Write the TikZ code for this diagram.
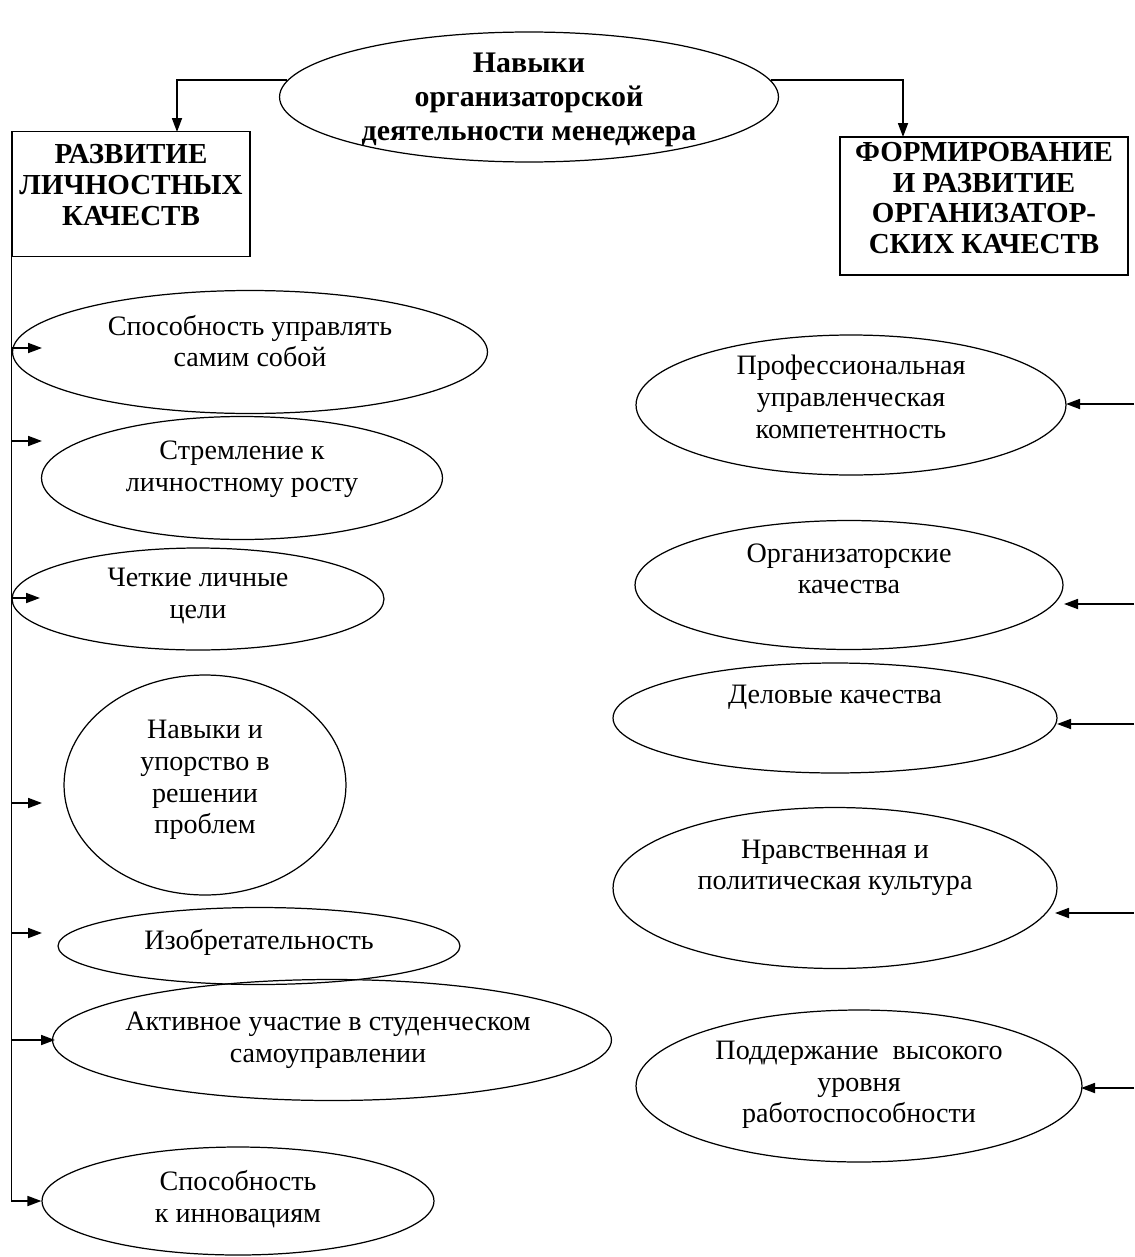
\documentclass[tikz,border=0pt]{standalone}
\usepackage{fontspec}
\setmainfont{Liberation Serif}
\usetikzlibrary{arrows.meta,shapes.geometric}

\tikzset{
  oval/.style={draw, ellipse, line width=0.7pt, inner sep=0pt},
  ovaltext/.style={align=center, font=\fontsize{16}{18}\selectfont, inner sep=0pt},
  headbox/.style={draw, rectangle, line width=0.7pt, inner sep=0pt},
  headtext/.style={align=center, font=\bfseries\fontsize{16.5}{17.5}\selectfont, inner sep=0pt},
  arr/.style={line width=1pt, -{Triangle[length=0.28cm, width=0.2cm]}}
}

\begin{document}
\begin{tikzpicture}[x=0.02cm, y=-0.02cm]
  \useasboundingbox (0,0) rectangle (1134,1257);

  % Top
  \node[oval, minimum width=9.98cm, minimum height=2.6cm] (top) at (529,97) {};
  \node[align=center, inner sep=0pt, font=\bfseries\fontsize{17}{19.5}\selectfont] (toptxt) at (529,100)
    {Навыки\\организаторской\\деятельности менеджера};

  % Headings
  \node[headbox, minimum width=4.76cm, minimum height=2.5cm] (lbox) at (131,194) {};
  \node[headtext] (lboxtxt) at (131,185) {РАЗВИТИЕ\\ЛИЧНОСТНЫХ\\КАЧЕСТВ};
  \node[headbox, minimum width=5.76cm, minimum height=2.76cm] (rbox) at (984,206) {};
  \node[headtext] (rboxtxt) at (984,198) {ФОРМИРОВАНИЕ\\И РАЗВИТИЕ\\ОРГАНИЗАТОР-\\СКИХ КАЧЕСТВ};

  \coordinate (lin) at (177,132);
  \coordinate (rin) at (903,137);
  \draw[arr] (top.176) -| (lin);
  \draw[arr] (top.4) -| (rin);

  % Left column
  \node[oval, minimum width=9.5cm, minimum height=2.46cm] (self) at (250,352) {};
  \node[ovaltext] (selftxt) at (250,341) {Способность управлять\\самим собой};

  \node[oval, minimum width=8.02cm, minimum height=2.46cm] (grow) at (242,478) {};
  \node[ovaltext] (growtxt) at (242,469) {Стремление к\\личностному росту};

  \node[oval, minimum width=7.44cm, minimum height=2.04cm] (goal) at (198,599) {};
  \node[ovaltext] (goaltxt) at (198,596) {Четкие личные\\цели};

  \node[oval, minimum width=5.64cm, minimum height=4.4cm] (solv) at (205,785) {};
  \node[ovaltext] (solvtxt) at (205,780) {Навыки и\\упорство в\\решении\\проблем};

  \node[oval, minimum width=8.04cm, minimum height=1.54cm] (inv) at (259,946) {};
  \node[ovaltext] (invtxt) at (259,942) {Изобретательность};

  \node[oval, minimum width=11.18cm, minimum height=2.42cm] (stud) at (332,1040) {};
  \node[ovaltext] (studtxt) at (328,1040) {Активное участие в студенческом\\самоуправлении};

  \node[oval, minimum width=7.84cm, minimum height=2.16cm] (innov) at (238,1201) {};
  \node[ovaltext] (innovtxt) at (238,1199) {Способность\\к инновациям};

  % Spine with arrows
  \draw[arr] (lbox.south west) |- (innov.west);
  \coordinate (l1) at (12,348);   \coordinate (l1t) at (42,348);
  \coordinate (l2) at (12,441);   \coordinate (l2t) at (42,441);
  \coordinate (l3) at (12,598);   \coordinate (l3t) at (40,598);
  \coordinate (l4) at (12,803);   \coordinate (l4t) at (42,803);
  \coordinate (l5) at (12,933);   \coordinate (l5t) at (42,933);
  \coordinate (l6) at (12,1040);  \coordinate (l6t) at (55,1040);
  \draw[arr] (l1) -- (l1t);
  \draw[arr] (l2) -- (l2t);
  \draw[arr] (l3) -- (l3t);
  \draw[arr] (l4) -- (l4t);
  \draw[arr] (l5) -- (l5t);
  \draw[arr] (l6) -- (l6t);

  % Right column
  \node[oval, minimum width=8.6cm, minimum height=2.8cm] (prof) at (851,405) {};
  \node[ovaltext] (proftxt) at (851,397) {Профессиональная\\управленческая\\компетентность};

  \node[oval, minimum width=8.56cm, minimum height=2.58cm] (orgq) at (849,585) {};
  \node[ovaltext] (orgqtxt) at (849,569) {Организаторские\\качества};

  \node[oval, minimum width=8.88cm, minimum height=2.2cm] (busi) at (835,718) {};
  \node[ovaltext] (busitxt) at (835,697) {Деловые качества};

  \node[oval, minimum width=8.88cm, minimum height=3.22cm] (mor) at (835,888) {};
  \node[ovaltext] (mortxt) at (835,868) {Нравственная и\\политическая культура};

  \node[oval, minimum width=8.92cm, minimum height=3.04cm] (work) at (859,1086) {};
  \node[ovaltext] (worktxt) at (859,1085) {Поддержание\ \ высокого\\уровня\\работоспособности};

  \coordinate (r1) at (1134,404);   \coordinate (r1t) at (1066,404);
  \coordinate (r2) at (1134,604);   \coordinate (r2t) at (1064,604);
  \coordinate (r3) at (1134,724);   \coordinate (r3t) at (1057,724);
  \coordinate (r4) at (1134,913);   \coordinate (r4t) at (1055,913);
  \coordinate (r5) at (1134,1088);  \coordinate (r5t) at (1081,1088);
  \draw[arr] (r1) -- (r1t);
  \draw[arr] (r2) -- (r2t);
  \draw[arr] (r3) -- (r3t);
  \draw[arr] (r4) -- (r4t);
  \draw[arr] (r5) -- (r5t);
\end{tikzpicture}
\end{document}
